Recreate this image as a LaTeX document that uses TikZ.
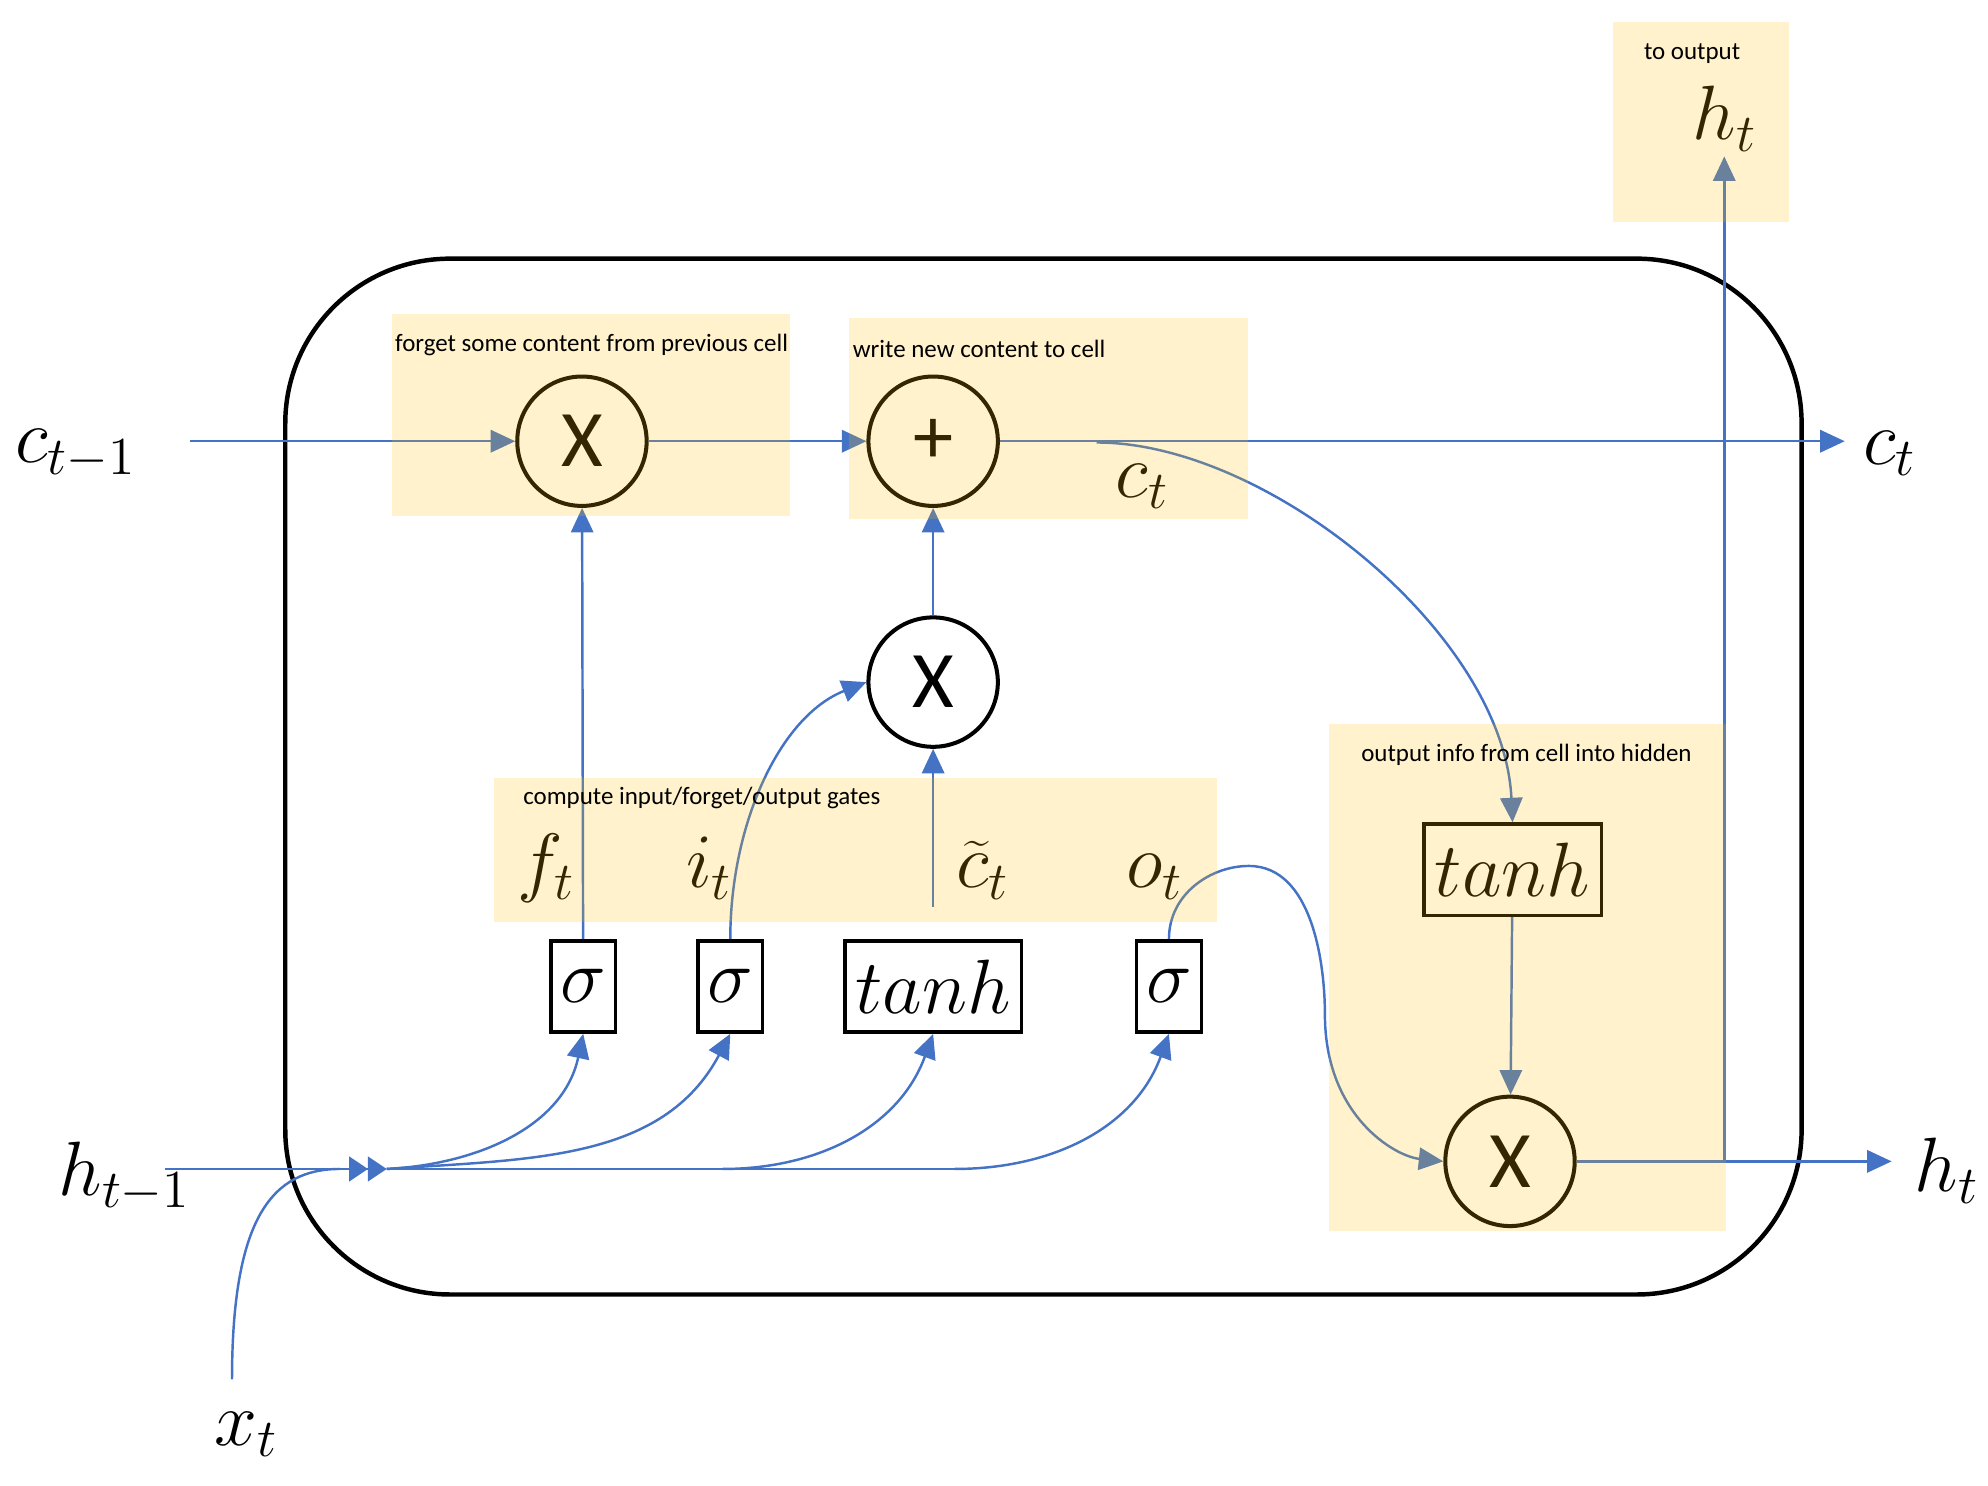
\documentclass[tikz,border=0pt]{standalone}
\usepackage{fontspec}
\newfontfamily\carlito{Carlito}
\usetikzlibrary{arrows.meta}
\definecolor{lstmblue}{HTML}{4472C4}
\definecolor{gold}{HTML}{FFC000}
\tikzstyle{opcirc} = [circle, draw=black, line width=0.9pt, minimum size=1.02cm, inner sep=0pt, font=\fontsize{18}{18}\carlito]
\tikzstyle{actbox} = [rectangle, draw=black, line width=0.8pt, minimum height=0.72cm, inner sep=0pt, font=\fontsize{17}{17}\selectfont]
\tikzstyle{lbl} = [anchor=base west, inner sep=1pt, font=\fontsize{17}{17}\selectfont]
\tikzstyle{note} = [fill=gold, fill opacity=0.2]
\tikzstyle{notetext} = [anchor=west, inner sep=0pt, font=\fontsize{5.6}{6}\carlito]
\tikzstyle{wire} = [draw=lstmblue, line width=0.55pt]
\tikzstyle{arrow} = [wire, -{Triangle[length=5.5pt,width=5pt]}]

\begin{document}
\begin{tikzpicture}[x=0.01cm,y=-0.01cm]
\useasboundingbox (0,0) rectangle (1568,1172);
\draw[line width=1pt, rounded corners=1.3cm] (225,204) rectangle (1421,1021);
% operations
\node (fx) [opcirc] at (459,348) {X};
\node (plus) [opcirc] at (736,348) {+};
\node (ix) [opcirc, fill=white] at (736,538) {X};
\node (ox) [opcirc] at (1191,916) {X};
% gates
\node (sigf) [actbox, minimum width=0.51cm] at (460,778) {$\sigma$};
\node (sigi) [actbox, minimum width=0.51cm] at (576,778) {$\sigma$};
\node (tanhc) [actbox, minimum width=1.39cm] at (736,778) {$tanh$};
\node (sigo) [actbox, minimum width=0.51cm] at (922,778) {$\sigma$};
\node (tanho) [actbox, minimum width=1.4cm] at (1193,686) {$tanh$};
% labels
\node (cprev) [lbl] at (8,365) {$c_{t-1}$};
\node (hprev) [lbl] at (42,943) {$h_{t-1}$};
\node (xin) [lbl] at (165,1140) {$x_t$};
\node (cout) [lbl, inner xsep=4pt] at (1455,366) {$c_t$};
\node (hout) [lbl, inner xsep=5pt] at (1492,940) {$h_t$};
\node (htop) [lbl] at (1331,110) {$h_t$};
\node (cnew) [lbl] at (876,392) {$c_t$};
\node (ft) [lbl] at (404,700) {$f_t$};
\node (it) [lbl] at (537,700) {$i_t$};
\node (ctil) [lbl] at (750,700) {$\widetilde{c}_t$};
\node (ot) [lbl] at (884,700) {$o_t$};
% wires
\coordinate (cin) at (150,348);
\coordinate (hin) at (130,922);
\coordinate (xstart) at (183,1088);
\coordinate (xjoin) at (268,922);
\coordinate (hsplit) at (305,922);
\coordinate (tsplit) at (570,922);
\coordinate (hend) at (753,922);
\coordinate (cbranch) at (865,349);
\coordinate (ctilde) at (736,715);
\coordinate (hbranch) at (1360,916);
\draw[arrow] (cin) -- (fx.west);
\draw[arrow] (fx) -- (plus);
\draw[arrow] (plus.east) -- (plus.east -| cout.west);
\draw[arrow] (cbranch) .. controls (1000,349) and (1186,500) .. (tanho.north);
\draw[arrow] (tanho) -- (ox);
\draw[arrow] (ox.east) -- (ox.east -| hout.west);
\draw[arrow] (hbranch) -- (hbranch |- htop.south);
\draw[wire, -{Triangle[length=4.2pt,width=5.5pt]Triangle[length=4.2pt,width=5.5pt]}] (hin) -- (hsplit);
\draw[wire] (xstart) .. controls (183,960) and (215,922) .. (xjoin);
\draw[wire] (hsplit) -- (hend);
\draw[arrow] (hsplit) to[out=3,in=-102] (sigf.south);
\draw[arrow] (hsplit) to[out=4,in=-118] (sigi.south);
\draw[arrow] (tsplit) to[out=0,in=-110] (tanhc.south);
\draw[arrow] (hend) to[out=0,in=-110] (sigo.south);
\draw[arrow] (sigf) -- (fx);
\draw[arrow] (sigi.north) .. controls (576,650) and (615,565) .. (ix.west);
\draw[arrow] (ctilde) -- (ix.south);
\draw[arrow] (ix) -- (plus);
\draw[arrow] (sigo.north) .. controls (922,705) and (955,683) .. (985,683)
  .. controls (1035,683) and (1045,760) .. (1045,800)
  .. controls (1045,880) and (1100,912) .. (ox.west);
% yellow notes
\fill[note] (309,248) rectangle (623,407);
\fill[note] (670,251) rectangle (984,409);
\fill[note] (390,614) rectangle (960,727);
\fill[note] (1048,571) rectangle (1361,971);
\fill[note] (1272,17) rectangle (1411,175);
\node (capf) [notetext] at (311,272) {forget some content from previous cell};
\node (capw) [notetext] at (672,275) {write new content to cell};
\node (capc) [notetext] at (412,629) {compute input/forget/output gates};
\node (capo) [notetext] at (1073,595) {output info from cell into hidden};
\node (capt) [notetext] at (1296,42) {to output};
\end{tikzpicture}
\end{document}
